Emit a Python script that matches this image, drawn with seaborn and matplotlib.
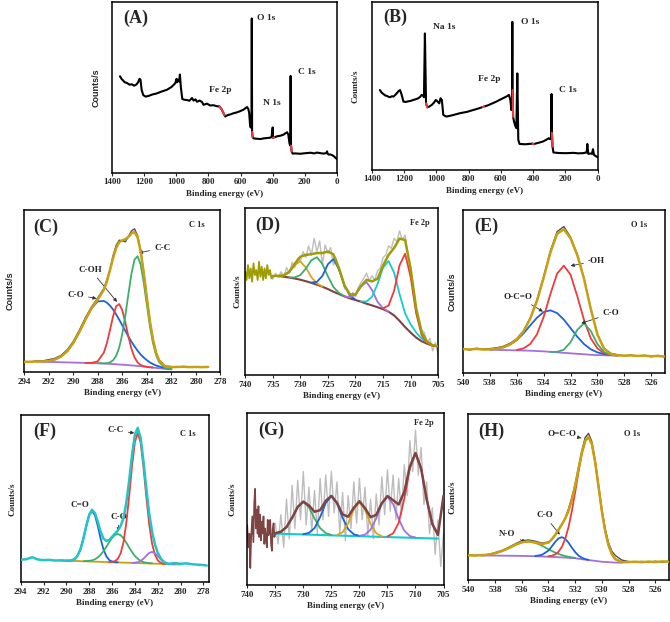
import matplotlib
matplotlib.use('Agg')
import matplotlib.pyplot as plt
import seaborn as sns

# ---------------- (A) survey spectrum, sample 1 ----------------
a_energy = [1350, 1340, 1330, 1320, 1307, 1290, 1276, 1262, 1250, 1238,
            1228, 1222, 1215, 1205, 1190, 1172, 1150, 1120, 1090, 1058,
            1030, 1006, 998, 994, 989, 982, 977, 971, 962, 950,
            933, 918, 902, 892, 880, 871, 855, 840, 830, 809,
            788, 770, 747, 730, 720, 709, 700, 695, 680, 664,
            640, 622, 600, 581, 560, 552, 546, 540, 536, 532,
            530, 528, 525, 519, 500, 477, 455, 436, 415, 407,
            400, 398, 390, 373, 350, 332, 311, 303, 296, 291,
            288.5, 286, 282, 276, 260, 228, 200, 166, 140, 125,
            100, 83, 66, 62, 58, 52, 40, 31, 20, 10, 0]
a_counts = [56.5, 55.0, 54.0, 53.0, 52.6, 51.6, 51.8, 51.0, 51.5, 52.8,
            55.0, 54.5, 48.5, 45.5, 44.6, 45.0, 45.8, 46.5, 47.6, 48.6,
            50.2, 52.4, 55.0, 53.0, 54.5, 53.5, 57.5, 50.0, 43.2, 42.8,
            42.6, 42.2, 43.8, 42.3, 43.0, 41.6, 42.3, 41.5, 39.8, 40.5,
            39.4, 39.6, 39.0, 38.8, 37.5, 35.5, 33.8, 33.0, 33.8, 34.2,
            35.0, 35.4, 36.2, 37.0, 38.5, 37.5, 35.0, 27.0, 26.5, 27.0,
            90.3, 24.0, 21.0, 20.2, 20.0, 19.8, 20.2, 20.4, 20.6, 21.0,
            26.6, 20.5, 20.8, 21.4, 21.8, 22.4, 23.8, 22.5, 17.5, 16.0,
            56.7, 16.0, 12.5, 11.3, 11.4, 11.2, 11.5, 11.8, 11.4, 11.9,
            11.5, 11.3, 11.6, 12.6, 11.2, 10.7, 10.8, 10.4, 9.8, 8.9, 8.0]
a_red_ranges = [(733, 697), (529, 522), (399, 389), (287, 279)]

# ---------------- (B) survey spectrum, sample 2 ----------------
b_energy = [1350, 1340, 1328, 1318, 1307, 1297, 1287, 1276, 1266, 1256,
            1246, 1235, 1225, 1215, 1204, 1190, 1174, 1160, 1143, 1128,
            1112, 1100, 1091, 1080, 1077, 1071, 1064, 1056, 1045, 1029,
            1015, 1003, 992, 982, 974, 966, 957, 945, 937, 900,
            854, 810, 772, 740, 712, 706, 680, 628, 600, 566,
            550, 541, 535, 531, 529, 527.5, 524, 519, 512, 504,
            498, 492, 484, 450, 403, 397, 370, 340, 320, 303,
            294, 289, 286, 283.5, 280, 274, 240, 196, 150, 120,
            93, 75, 68, 64, 58, 45, 35, 29, 23, 12, 0]
b_counts = [47.5, 46.0, 45.1, 44.3, 44.0, 43.5, 43.2, 43.8, 43.6, 44.5,
            45.5, 46.8, 47.5, 44.6, 40.6, 40.4, 40.8, 41.0, 41.6, 42.0,
            42.6, 43.5, 44.6, 44.0, 43.2, 81.2, 39.6, 37.2, 37.6, 38.6,
            40.0, 41.6, 40.6, 39.6, 42.6, 41.6, 32.7, 32.0, 31.7, 32.5,
            33.7, 34.5, 35.6, 36.5, 37.4, 37.6, 38.4, 40.6, 42.0, 43.6,
            44.6, 41.6, 35.6, 40.0, 88.1, 47.5, 31.5, 29.0, 26.5, 24.8,
            57.4, 17.8, 15.4, 15.2, 15.6, 15.3, 16.0, 16.8, 17.8, 18.8,
            18.2, 19.5, 45.1, 22.0, 13.9, 10.3, 10.0, 9.9, 10.1, 9.8,
            9.9, 10.2, 10.3, 15.4, 9.5, 9.7, 9.5, 12.3, 8.9, 8.2, 7.5]
b_red_ranges = [(1065, 1055), (713, 705), (528, 523), (404, 396), (284, 279)]

# ---------------- (C) C 1s, sample 1 ----------------
c_energy = [294, 293.5, 293, 292.5, 292, 291.5, 291, 290.5, 290, 289.5,
            289, 288.5, 288, 287.5, 287.25, 287, 286.75, 286.5, 286.25, 286,
            285.75, 285.5, 285.25, 285, 284.75, 284.5, 284.25, 284, 283.75, 283.5,
            283.25, 283, 282.5, 282, 281.5, 281, 280.5, 280, 279.5, 279]
c_data = [6.6, 6.0, 7.0, 6.8, 7.6, 8.4, 10.2, 13.6, 18.8, 25.8,
          33.6, 40.3, 45.8, 51.6, 57.2, 63.6, 72.0, 78.2, 81.5, 81.0,
          80.5, 83.8, 87.2, 88.5, 84.2, 75.5, 62.0, 46.5, 31.8, 20.5,
          12.2, 7.5, 3.6, 3.3, 3.0, 3.4, 3.0, 3.2, 2.9, 3.1]
c_envelope = [6.2, 6.3, 6.5, 6.5, 6.8, 7.7, 9.5, 12.7, 17.9, 24.7,
              32.4, 39.5, 44.8, 50.8, 56.0, 62.9, 70.4, 76.6, 80.2, 81.4,
              82.1, 83.5, 85.7, 86.5, 83.2, 74.4, 61.2, 45.9, 31.4, 20.1,
              12.0, 7.2, 3.4, 3.0, 3.1, 3.2, 3.0, 3.1, 3.0, 3.1]
c_background = [None, None, 6.4, 6.3, 6.2, 6.1, 6.0, 5.9, 5.8, 5.7,
                5.6, 5.5, 5.4, 5.2, 5.1, 5.0, 4.9, 4.8, 4.6, 4.5,
                4.35, 4.2, 4.05, 3.9, 3.7, 3.5, 3.3, 3.1, 2.9, 2.7,
                2.5, 2.3, 1.9, 1.6, None, None, None, None, None, None]
c_co = [None, None, None, 6.5, 6.8, 7.7, 9.5, 12.7, 17.9, 24.7,
        32.4, 39.4, 43.6, 43.9, 42.8, 41.0, 38.6, 35.6, 32.3, 28.8,
        25.4, 21.9, 18.7, 15.8, 13.1, 10.8, 8.9, 7.3, 5.9, 4.9,
        4.0, 3.4, 2.4, 1.8, None, None, None, None, None, None]
c_coh = [None, None, None, None, None, None, None, None, None, None,
         5.6, 5.6, 6.6, 12.0, 18.0, 26.0, 34.4, 40.6, 42.0, 38.2,
         30.6, 21.8, 14.3, 9.0, 5.9, 4.3, 3.6, 3.2, 2.9, 2.7,
         None, None, None, None, None, None, None, None, None, None]
c_cc = [None, None, None, None, None, None, None, None, None, None,
        None, None, 5.4, 5.3, 5.4, 5.9, 7.2, 10.0, 15.1, 23.4,
        34.9, 48.2, 60.9, 69.5, 71.6, 66.3, 55.3, 41.6, 28.4, 17.9,
        10.5, 6.1, 2.5, 1.6, None, None, None, None, None, None]

# ---------------- (D) Fe 2p, sample 1 ----------------
d_energy = [735, 734, 733, 732, 731, 730, 729, 728, 727, 726,
            725, 724, 723, 722, 721, 720, 719, 718, 717, 716,
            715, 714, 713, 712, 711, 710, 709, 708, 707, 706, 705]
d_envelope = [59.5, 59.5, 59.8, 62.0, 66.8, 71.0, 72.1, 72.5, 73.2, 73.2,
              74.1, 72.4, 64.2, 53.8, 48.3, 48.4, 53.4, 57.1, 56.2, 57.8,
              65.6, 72.1, 76.2, 81.9, 81.0, 63.9, 40.2, 25.7, 20.0, 17.9, 17.2]
d_background = [None, 59.4, 59.0, 58.5, 57.9, 57.2, 56.3, 55.3, 54.2, 53.0,
                51.6, 50.0, 48.6, 47.2, 46.0, 45.0, 44.0, 42.8, 41.8, 40.7,
                39.5, 38.0, 35.8, 32.5, 28.8, 25.5, 22.5, 20.3, 18.8, 17.7, 17.2]
d_peak730 = [None, 59.5, 59.8, 61.9, 66.1, 68.2, 64.5, 58.7, 55.0, 53.1,
             None, None, None, None, None, None, None, None, None, None,
             None, None, None, None, None, None, None, None, None, None, None]
d_peak727 = [None, None, None, 58.6, 58.6, 60.0, 63.9, 68.9, 70.7, 66.6,
             59.2, 52.8, 49.3, 47.3, None, None, None, None, None, None,
             None, None, None, None, None, None, None, None, None, None, None]
d_peak724 = [None, None, None, None, None, None, None, 55.5, 55.9, 59.5,
             66.5, 69.6, 63.5, 53.7, 47.7, 45.2, None, None, None, None,
             None, None, None, None, None, None, None, None, None, None, None]
d_peak718 = [None, None, None, None, None, None, None, None, None, None,
             None, None, None, 47.2, 46.6, 48.2, 53.2, 55.8, 51.0, 43.9,
             40.1, 38.0, None, None, None, None, None, None, None, None, None]
d_peak714 = [None, None, None, None, None, None, None, None, None, None,
             None, None, None, None, None, None, 44.2, 44.1, 47.0, 54.6,
             64.5, 68.4, 61.5, 48.5, 37.0, 30.5, 25.5, 22.0, 19.5, 17.9, None]
d_peak711 = [None, None, None, None, None, None, None, None, None, None,
             None, None, None, None, None, None, None, None, None, None,
             40.0, 41.7, 50.5, 65.9, 72.8, 58.9, 37.2, 24.0, 19.3, 17.7, None]
d_edge_energy = [740, 739.75, 739.5, 739.25, 739, 738.75, 738.5, 738.25, 738, 737.75,
                 737.5, 737.25, 737, 736.75, 736.5, 736.25, 736, 735.75, 735.5, 735.25, 735]
d_edge_counts = [62, 57, 66, 58, 64, 56, 67, 60, 63, 57,
                 68, 59, 65, 57, 64, 58, 66, 60, 63, 58, 59.5]
d_raw_energy = [735.5 - 0.5 * i for i in range(62)]
d_raw_counts = [60.5, 57.5, 61.0, 58.5, 62.0, 59.0, 64.5, 61.0, 67.5, 64.5,
                70.0, 68.5, 74.0, 70.5, 77.5, 72.0, 82.0, 74.0, 80.5, 66.0,
                78.0, 73.0, 76.5, 66.0, 70.0, 62.5, 59.5, 52.0, 51.0, 46.0,
                49.5, 47.0, 52.5, 55.5, 58.0, 61.0, 56.5, 59.5, 57.0, 62.5,
                64.0, 70.5, 72.0, 77.5, 76.0, 82.0, 80.0, 86.5, 81.0, 84.0,
                72.0, 63.5, 52.0, 40.5, 33.0, 27.0, 25.5, 19.0, 22.0, 14.5,
                19.5, 12.0]

# ---------------- (E) O 1s, sample 1 ----------------
e_energy = [540 - 0.5 * i for i in range(31)]
e_data = [15.2, 14.2, 15.3, 14.8, 15.1, 15.6, 16.5, 18.3, 21.2, 26.0,
          33.8, 45.0, 59.3, 75.0, 86.8, 90.0, 83.5, 73.0, 58.4, 39.8,
          24.0, 15.3, 12.2, 11.3, 10.6, 11.2, 10.4, 11.0, 10.1, 10.9, 10.0]
e_envelope = [14.8, 14.6, 14.9, 14.5, 14.6, 15.0, 15.9, 17.6, 20.6, 25.7,
              33.4, 44.2, 58.6, 74.0, 85.5, 88.3, 82.8, 72.5, 58.0, 39.6,
              23.7, 14.9, 11.8, 10.9, 10.8, 10.9, 10.6, 10.8, 10.4, 10.6, 10.2]
e_background = [None, None, None, None, 14.3, 14.3, 14.2, 14.1, 14.0, 13.9,
                13.8, 13.6, 13.4, 13.1, 12.8, 12.5, 12.2, 11.9, 11.6, 11.3,
                11.1, 11.0, 10.9, 10.8, None, None, None, None, None, None, None]
e_ocdo = [None, None, None, None, 14.6, 15.0, 15.9, 17.5, 20.3, 24.4,
          29.3, 34.0, 37.5, 38.6, 36.9, 32.9, 27.7, 22.4, 17.9, 14.7,
          12.8, 11.7, 11.2, 10.9, None, None, None, None, None, None, None]
e_oh = [None, None, None, None, None, None, None, None, 14.3, 15.2,
        17.9, 23.8, 34.5, 48.5, 61.1, 66.0, 60.5, 47.3, 32.7, 21.5,
        15.2, 12.3, 11.2, None, None, None, None, None, None, None, None]
e_co = [None, None, None, None, None, None, None, None, None, None,
        None, None, None, 13.1, 13.1, 14.4, 19.0, 26.6, 30.6, 26.0,
        17.9, 12.9, 11.2, 10.8, None, None, None, None, None, None, None]

# ---------------- (F) C 1s, sample 2 ----------------
f_energy = ([294, 293.5, 293, 292.5, 292, 291.5, 291, 290.5, 290]
            + [289.75 - 0.25 * i for i in range(36)]
            + [280.5, 280, 279.5, 279, 278.5, 278, 277.7])
f_envelope = [13.5, 13.8, 15.0, 13.6, 13.2, 13.4, 13.0, 13.1, 12.9,
              12.9, 13.2, 14.0, 16.2, 20.1, 26.5, 34.1, 40.6, 43.4, 41.5,
              36.3, 30.3, 26.1, 24.8, 25.3, 27.2, 29.1, 31.0, 33.7, 38.5,
              47.6, 60.9, 76.1, 88.4, 92.6, 86.6, 72.8, 56.4, 41.6, 30.5,
              22.9, 17.8, 14.5, 12.4, 11.4, 11.0,
              11.5, 11.0, 11.3, 10.8, 10.5, 10.3, 10.0]
f_background = [None, None, None, None, None, None, None, 13.0, 12.9,
                12.8, 12.8, 12.7, 12.7, 12.6, 12.5, 12.5, 12.4, 12.4, 12.3,
                12.3, 12.2, 12.1, 12.1, 12.0, 12.0, 11.9, 11.9, 11.8, 11.7,
                11.7, 11.6, 11.6, 11.5, 11.5, 11.4, 11.3, 11.3, 11.2, 11.2,
                11.1, 11.1, 11.0, 10.9, 10.9, 10.8,
                10.7, 10.6, None, None, None, None, None]
f_c_double_o = [None, None, None, None, None, None, None, None, 12.9,
                12.9, 13.2, 14.0, 16.2, 20.1, 26.4, 33.9, 40.2, 42.7, 40.1,
                33.7, 26.1, 19.6, 15.6, 13.3, 12.4, 12.0, 11.9, None, None,
                None, None, None, None, None, None, None, None, None, None,
                None, None, None, None, None, None,
                None, None, None, None, None, None, None]
f_c_o = [None, None, None, None, None, None, None, None, None,
         None, None, None, None, None, 12.6, 12.7, 12.8, 13.1, 13.7,
         14.9, 16.4, 18.6, 21.3, 24.0, 26.6, 28.3, 28.9, 28.2, 26.3,
         23.7, 20.8, 18.1, 15.7, 14.1, 12.8, 12.0, 11.7, 11.4, 11.3,
         None, None, None, None, None, None,
         None, None, None, None, None, None, None]
f_c_c = [None, None, None, None, None, None, None, None, None,
         None, None, None, None, None, None, None, None, None, None,
         None, None, None, None, 12.0, 12.2, 12.6, 14.0, 17.3, 23.9,
         35.6, 51.7, 69.6, 84.0, 89.5, 83.9, 69.3, 51.4, 35.1, 23.4,
         16.6, 13.2, 11.7, 11.1, 10.9, None,
         None, None, None, None, None, None, None]
f_extra = [None, None, None, None, None, None, None, None, None,
           None, None, None, None, None, None, None, None, None, None,
           None, None, None, None, None, None, None, None, None, None,
           None, None, 11.6, 11.7, 12.0, 12.7, 14.1, 15.9, 17.5, 18.2,
           17.4, 15.7, 13.8, 12.2, 11.4, 11.0,
           10.7, None, None, None, None, None, None]

# ---------------- (G) Fe 2p, sample 2 ----------------
g_energy = [735 - i for i in range(31)]
g_envelope = [30.2, 31.1, 33.8, 39.2, 45.5, 48.6, 46.3, 42.7, 43.6, 49.0,
              51.9, 47.9, 41.2, 39.8, 45.0, 48.8, 44.8, 39.5, 40.9, 47.7,
              51.8, 49.4, 46.9, 54.2, 69.0, 76.8, 67.8, 49.8, 35.6, 29.3, 52.0]
g_background = [30.0, 29.9, 29.8, 29.7, 29.6, 29.5, 29.4, 29.3, 29.2, 29.1,
                29.0, 28.9, 28.8, 28.7, 28.6, 28.5, 28.4, 28.3, 28.2, 28.1,
                28.0, 27.9, 27.8, 27.7, 27.6, 27.5, 27.4, 27.3, 27.2, 27.1, None]
g_peak730 = [None, 31.1, 33.8, 39.2, 45.5, 48.4, 45.3, 38.8, 33.2, 30.3,
             29.2, None, None, None, None, None, None, None, None, None,
             None, None, None, None, None, None, None, None, None, None, None]
g_peak725 = [None, None, None, None, None, 29.7, 30.4, 33.2, 39.6, 47.8,
             51.7, 47.6, 39.2, 32.6, 29.6, 28.7, None, None, None, None,
             None, None, None, None, None, None, None, None, None, None, None]
g_peak720 = [None, None, None, None, None, None, None, None, None, None,
             None, 29.2, 30.8, 35.9, 44.0, 48.4, 43.8, 35.5, 30.2, 28.4,
             None, None, None, None, None, None, None, None, None, None, None]
g_peak715 = [None, None, None, None, None, None, None, None, None, None,
             None, None, None, None, None, 28.7, 29.4, 32.3, 38.9, 47.4,
             51.4, 47.2, 38.5, 31.7, 28.6, 27.7, None, None, None, None, None]
g_peak710 = [None, None, None, None, None, None, None, None, None, None,
             None, None, None, None, None, None, None, None, None, None,
             28.4, 30.1, 36.2, 50.2, 68.0, 76.6, 67.8, 49.8, 35.6, 29.3, None]
g_edge_energy = [740.0, 739.8, 739.6, 739.45, 739.3, 739.1, 738.9, 738.75, 738.6, 738.45,
                 738.3, 738.15, 738.0, 737.85, 737.7, 737.55, 737.4, 737.25, 737.1, 736.95,
                 736.8, 736.65, 736.5, 736.35, 736.2, 736.05, 735.9, 735.75, 735.6, 735.45,
                 735.3, 735.15, 735.0]
g_edge_counts = [35, 22, 30, 10, 28, 40, 25, 48, 56, 33,
                 44, 30, 46, 28, 41, 26, 37, 30, 40, 24,
                 33, 27, 22, 38, 29, 34, 38, 24, 20, 33,
                 36, 28, 30.2]
g_raw_energy = [735 - 0.5 * i for i in range(61)]
g_raw_counts = [36, 24, 41, 22, 50, 27, 58, 33, 61, 38,
                66, 35, 57, 31, 55, 30, 62, 38, 64, 40,
                66, 42, 60, 30, 54, 26, 52, 33, 60, 36,
                62, 38, 57, 29, 50, 27, 53, 35, 63, 41,
                67, 43, 64, 38, 62, 41, 70, 52, 84, 66,
                90, 64, 80, 47, 60, 30, 45, 18, 38, 11, 30]

# ---------------- (H) O 1s, sample 2 ----------------
h_energy = ([540 - 0.5 * i for i in range(13)]
            + [533.75 - 0.25 * i for i in range(20)]
            + [528.5 - 0.5 * i for i in range(8)])
h_data = [15.4, 14.8, 15.5, 15.3, 16.7, 17.9, 19.8, 21.9, 23.8, 24.3, 23.6, 22.4, 23.1,
          24.5, 27.0, 30.0, 33.5, 37.6, 43.0, 50.0, 58.0, 68.0, 78.0, 86.0, 88.5,
          83.5, 71.5, 57.0, 42.5, 31.0, 22.5, 17.5, 15.0,
          12.2, 11.3, 11.0, 11.4, 10.8, 11.5, 10.9, 11.6]
h_envelope = [15.0, 15.0, 15.1, 15.5, 16.3, 17.6, 19.3, 21.3, 22.9, 23.4, 22.8, 21.8, 22.7,
              24.7, 27.4, 30.5, 33.7, 37.1, 41.7, 48.3, 57.1, 67.2, 77.0, 84.0, 86.3,
              82.0, 71.0, 56.4, 41.6, 29.5, 21.0, 15.7, 12.8,
              10.9, 11.0, 11.2, 10.9, 11.3, 11.0, 11.4, 11.2]
h_background = [None, None, 14.9, 14.9, 14.9, 14.85, 14.8, 14.75, 14.7, 14.6, 14.5, 14.35, 14.2,
                14.1, 14.0, 13.9, 13.8, 13.7, 13.55, 13.4, 13.3, 13.0, 12.7, 12.45, 12.2,
                11.95, 11.7, 11.45, 11.2, 11.05, 10.95, 10.8, 10.7,
                10.6, None, None, None, None, None, None, None]
h_n_o = [None, None, 15.1, 15.5, 16.3, 17.6, 19.3, 21.3, 22.9, 23.4, 22.7, 20.9, 18.7,
         17.7, 16.7, 15.9, 15.2, 14.6, 14.2, 13.8, 13.5, None, None, None, None,
         None, None, None, None, None, None, None, None,
         None, None, None, None, None, None, None, None]
h_c_o = [None, None, None, None, None, None, None, None, None, None, 14.6, 15.3, 17.9,
         20.4, 23.1, 25.2, 26.0, 25.0, 22.7, 19.7, 17.0, 14.9, 13.6, 12.8, 12.3,
         None, None, None, None, None, None, None, None,
         None, None, None, None, None, None, None, None]
h_o_c_o = [None, None, None, None, None, None, None, None, None, None, None, None, 14.5,
           14.8, 15.6, 17.2, 20.1, 24.9, 32.0, 41.6, 53.2, 65.3, 76.1, 83.7, 86.2,
           82.0, 71.0, 56.4, 41.6, 29.5, 21.0, 15.7, 12.8,
           10.9, None, None, None, None, None, None, None]

# ---------------- style ----------------
sns.set_theme(style='ticks')
plt.rcParams['font.family'] = ['Liberation Serif', 'DejaVu Serif']
plt.rcParams['font.weight'] = 'bold'

PURPLE = '#A371DB'
BLUE = '#1E63D6'
RED = '#EE3B3B'
GREEN = '#3DAE6A'
GOLD = '#C8A012'
OLIVE = '#9F9C05'
BROWN = '#7E4444'
CYAN = '#14CCCC'
ORANGE = '#D9A520'
NOISE = '#BDBDBD'
DARK = '#505050'


def draw(ax, xs, ys, color, lw, z=2):
    pts = [(x, y) for x, y in zip(xs, ys) if y is not None]
    sns.lineplot(x=[p[0] for p in pts], y=[p[1] for p in pts], ax=ax, color=color,
                 linewidth=lw, sort=False, estimator=None, zorder=z)


def frame(ax, xlim, ticks, panel, panel_xy, ylab_x, ylab_family='serif'):
    ax.set_xlim(*xlim)
    ax.set_ylim(0, 100)
    ax.set_xticks(ticks)
    ax.set_xticklabels([str(t) for t in ticks], fontsize=6.5, fontweight='bold')
    ax.set_yticks([])
    ax.tick_params(axis='x', direction='out', length=2.5, width=0.8, pad=1.5)
    for s in ax.spines.values():
        s.set_visible(True)
        s.set_color('black')
        s.set_linewidth(1.1)
    ax.set_xlabel('Binding energy (eV)', fontsize=6.5, fontweight='bold', labelpad=2.5)
    fam = ['Liberation Sans', 'DejaVu Sans'] if ylab_family == 'sans' else ['Liberation Serif', 'DejaVu Serif']
    ax.set_ylabel('Counts/s', fontsize=6.5, fontweight='bold', family=fam)
    ax.yaxis.set_label_coords(ylab_x, 0.5)
    ax.text(panel_xy[0], panel_xy[1], panel, transform=ax.transAxes, fontsize=13,
            fontweight='bold', ha='left', va='center')


def label(ax, text, x, y, size=6.5):
    ax.text(x, y, text, transform=ax.transAxes, fontsize=size, fontweight='bold',
            ha='left', va='center')


def note(ax, text, tip, pos, ha='center'):
    ax.annotate(text, xy=tip, xytext=pos, ha=ha, va='center', fontsize=6.5,
                fontweight='bold',
                arrowprops=dict(arrowstyle='-|>', lw=0.6, color='#333333',
                                mutation_scale=5, shrinkA=1, shrinkB=0))


def survey(ax, energy, counts, red_ranges):
    draw(ax, energy, counts, 'black', 1.5, 2)
    for hi, lo in red_ranges:
        sel = [(e, c) for e, c in zip(energy, counts) if lo <= e <= hi]
        draw(ax, [s[0] for s in sel], [s[1] for s in sel], RED, 1.5, 3)


fig = plt.figure(figsize=(6.7, 6.22), dpi=100)
survey_ticks = [1400, 1200, 1000, 800, 600, 400, 200, 0]
c_ticks = [294, 292, 290, 288, 286, 284, 282, 280, 278]
fe_ticks = [740, 735, 730, 725, 720, 715, 710, 705]
o_ticks = [540, 538, 536, 534, 532, 530, 528, 526]

# (A)
ax = fig.add_axes([0.167, 0.722, 0.336, 0.275])
survey(ax, a_energy, a_counts, a_red_ranges)
frame(ax, (1400, 0), survey_ticks, '(A)', (0.05, 0.906), -0.051, 'sans')
label(ax, 'O 1s', 0.644, 0.906, 6.8)
label(ax, 'C 1s', 0.827, 0.59, 6.8)
label(ax, 'Fe 2p', 0.431, 0.485, 6.8)
label(ax, 'N 1s', 0.671, 0.41, 6.8)

# (B)
ax = fig.add_axes([0.555, 0.727, 0.337, 0.270])
survey(ax, b_energy, b_counts, b_red_ranges)
frame(ax, (1400, 0), survey_ticks, '(B)', (0.049, 0.905), -0.055)
label(ax, 'Na 1s', 0.27, 0.85, 6.8)
label(ax, 'O 1s', 0.66, 0.88, 6.8)
label(ax, 'Fe 2p', 0.47, 0.54, 6.8)
label(ax, 'C 1s', 0.83, 0.476, 6.8)

# (C)
ax = fig.add_axes([0.036, 0.402, 0.293, 0.260])
draw(ax, c_energy, c_data, DARK, 1.0, 1)
draw(ax, c_energy, c_background, PURPLE, 1.3, 2)
draw(ax, c_energy, c_co, BLUE, 1.3, 3)
draw(ax, c_energy, c_coh, RED, 1.3, 3)
draw(ax, c_energy, c_cc, GREEN, 1.3, 3)
draw(ax, c_energy, c_envelope, GOLD, 1.8, 4)
frame(ax, (294, 278), c_ticks, '(C)', (0.046, 0.895), -0.048, 'sans')
label(ax, 'C 1s', 0.84, 0.907, 6)
note(ax, 'C-C', (284.65, 73.6), (283.4, 76.7), ha='left')
note(ax, 'C-OH', (286.43, 43.3), (288.6, 63.3))
note(ax, 'C-O', (288.1, 45.4), (289.8, 47.8))

# (D)
ax = fig.add_axes([0.366, 0.397, 0.288, 0.268])
draw(ax, d_raw_energy, d_raw_counts, NOISE, 1.0, 1)
draw(ax, d_edge_energy, d_edge_counts, OLIVE, 1.3, 2)
draw(ax, d_energy, d_background, BROWN, 1.5, 2)
draw(ax, d_energy, d_peak730, ORANGE, 1.3, 3)
draw(ax, d_energy, d_peak727, GREEN, 1.3, 3)
draw(ax, d_energy, d_peak724, BLUE, 1.3, 3)
draw(ax, d_energy, d_peak718, PURPLE, 1.3, 3)
draw(ax, d_energy, d_peak714, CYAN, 1.3, 3)
draw(ax, d_energy, d_peak711, RED, 1.3, 3)
draw(ax, d_energy, d_envelope, OLIVE, 1.8, 4)
frame(ax, (740, 705), fe_ticks, '(D)', (0.05, 0.9), -0.018)
label(ax, 'Fe 2p', 0.855, 0.91, 6)

# (E)
ax = fig.add_axes([0.691, 0.400, 0.301, 0.262])
draw(ax, e_energy, e_data, DARK, 1.0, 1)
draw(ax, e_energy, e_background, PURPLE, 1.3, 2)
draw(ax, e_energy, e_ocdo, BLUE, 1.3, 3)
draw(ax, e_energy, e_oh, RED, 1.3, 3)
draw(ax, e_energy, e_co, GREEN, 1.3, 3)
draw(ax, e_energy, e_envelope, GOLD, 1.8, 4)
frame(ax, (540, 525), o_ticks, '(E)', (0.054, 0.9), -0.032, 'sans')
label(ax, 'O 1s', 0.835, 0.908, 6)
note(ax, '-OH', (532.0, 65.9), (530.7, 68.8), ha='left')
note(ax, 'O-C=O', (534.05, 37.8), (535.9, 46.9))
note(ax, 'C-O', (531.2, 30.6), (529.6, 36.7), ha='left')

# (F)
ax = fig.add_axes([0.031, 0.064, 0.281, 0.268])
draw(ax, f_energy, f_background, GOLD, 1.3, 2)
draw(ax, f_energy, f_c_double_o, BLUE, 1.3, 3)
draw(ax, f_energy, f_c_o, GREEN, 1.3, 3)
draw(ax, f_energy, f_c_c, RED, 1.3, 3)
draw(ax, f_energy, f_extra, PURPLE, 1.3, 3)
draw(ax, f_energy, f_envelope, '#22C4C4', 1.8, 4)
frame(ax, (294, 277.5), c_ticks, '(F)', (0.064, 0.905), -0.024)
label(ax, 'C 1s', 0.846, 0.886, 6)
note(ax, 'C-C', (284.05, 89.5), (285.7, 91.0))
ax.text(288.78, 46.6, 'C=O', ha='center', va='center', fontsize=6.5, fontweight='bold')
note(ax, 'C-O', (285.45, 30.5), (285.4, 39.4))

# (G)
ax = fig.add_axes([0.369, 0.059, 0.293, 0.277])
draw(ax, g_raw_energy, g_raw_counts, NOISE, 1.0, 1)
draw(ax, g_edge_energy, g_edge_counts, BROWN, 1.2, 2)
draw(ax, g_energy, g_background, CYAN, 1.5, 2)
draw(ax, g_energy, g_peak730, GREEN, 1.3, 3)
draw(ax, g_energy, g_peak725, BLUE, 1.3, 3)
draw(ax, g_energy, g_peak720, ORANGE, 1.3, 3)
draw(ax, g_energy, g_peak715, PURPLE, 1.3, 3)
draw(ax, g_energy, g_peak710, RED, 1.3, 3)
draw(ax, g_energy, g_envelope, BROWN, 1.8, 4)
frame(ax, (740, 705), fe_ticks, '(G)', (0.056, 0.9), -0.054)
label(ax, 'Fe 2p', 0.85, 0.94, 6)

# (H)
ax = fig.add_axes([0.699, 0.067, 0.299, 0.267])
draw(ax, h_energy, h_data, DARK, 1.0, 1)
draw(ax, h_energy, h_background, PURPLE, 1.3, 2)
draw(ax, h_energy, h_n_o, GREEN, 1.3, 3)
draw(ax, h_energy, h_c_o, BLUE, 1.3, 3)
draw(ax, h_energy, h_o_c_o, RED, 1.3, 3)
draw(ax, h_energy, h_envelope, GOLD, 1.8, 4)
frame(ax, (540, 525), o_ticks, '(H)', (0.05, 0.9), -0.058)
label(ax, 'O 1s', 0.775, 0.88, 6)
note(ax, 'O=C-O', (531.55, 85.7), (533.0, 88.4))
note(ax, 'C-O', (533.15, 27.5), (534.3, 39.2))
note(ax, 'N-O', (535.7, 23.1), (537.06, 27.7))

fig.savefig('out.png', dpi=100)
